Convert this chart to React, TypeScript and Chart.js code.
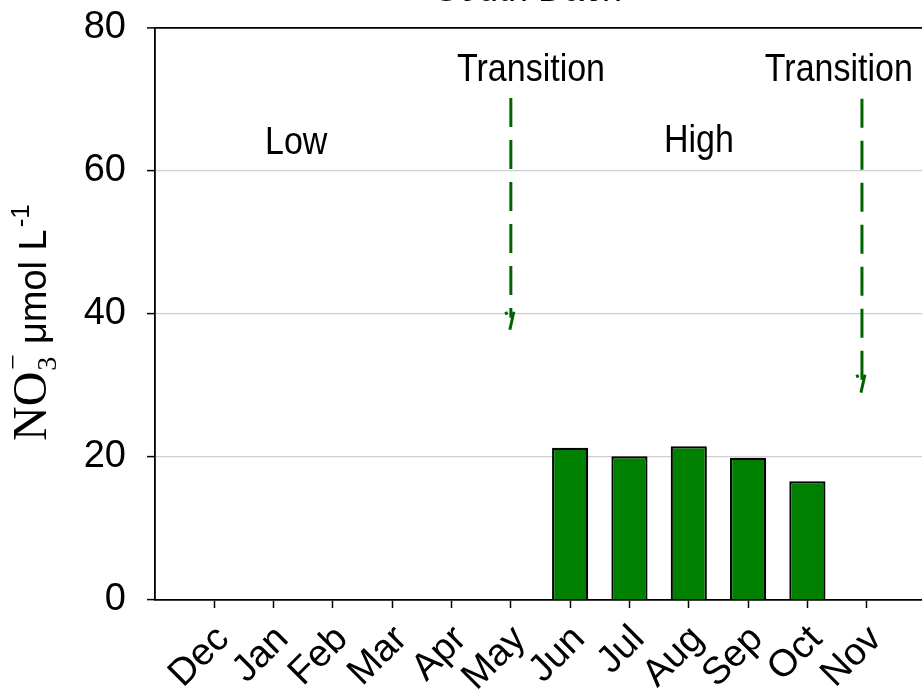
import React, { useEffect, useRef } from "react";
import { Chart, registerables } from "chart.js";

Chart.register(...registerables);

// Sampling months (Dec .. Nov) and monthly NO3- concentrations (µmol L-1)
const MONTHS = ["Dec", "Jan", "Feb", "Mar", "Apr", "May", "Jun", "Jul", "Aug", "Sep", "Oct", "Nov"];
const NO3 = [null, null, null, null, null, null, 21.3, 20.1, 21.5, 19.9, 16.6, null];
const Y_TICKS = [0, 20, 40, 60, 80];

// Flow-phase labels (x in month positions, y in µmol L-1)
const PHASE_TEXT = ["Low", "Transition", "High", "Transition"];
const PHASE_X = [2.38, 6.34, 9.17, 11.53];
const PHASE_Y = [63.8, 74.1, 64.1, 74.1];

// Transition arrows
const ARROW_X = [6.0, 11.92];
const ARROW_FROM = [70.2, 70.1];
const ARROW_TO = [37.8, 29.0];

const TITLE = "South Dach";

// canvas sits 40px above the page top so the title is clipped
const SHIFT = 40;
const CANVAS_W = 940;
const CANVAS_H = 733;

const SANS = "'Liberation Sans', Arial, sans-serif";
const SERIF = "'Liberation Serif', 'Times New Roman', serif";

// text drawn slightly taller than wide
const STRETCH = 1.12;

function tallText(ctx: any, text: string, x: number, y: number) {
  ctx.save();
  ctx.translate(x, y);
  ctx.scale(1, STRETCH);
  ctx.fillText(text, 0, 0);
  ctx.restore();
}

const decorations = {
  id: "decorations",
  afterDatasetsDraw(chart: any) {
    const { ctx, scales } = chart;
    const xs = scales.x;
    const ys = scales.y;
    ctx.save();
    // dashed transition arrows
    ctx.strokeStyle = "#006400";
    ctx.lineWidth = 3;
    for (let i = 0; i < ARROW_X.length; i++) {
      const x = xs.getPixelForValue(ARROW_X[i]);
      const y0 = ys.getPixelForValue(ARROW_FROM[i]);
      const y1 = ys.getPixelForValue(ARROW_TO[i]);
      ctx.setLineDash([29, 13]);
      ctx.beginPath();
      ctx.moveTo(x, y0);
      ctx.lineTo(x, y1 - 12);
      ctx.stroke();
      ctx.setLineDash([]);
      ctx.beginPath();
      ctx.moveTo(x - 5, y1 - 18);
      ctx.lineTo(x - 4, y1 - 15);
      ctx.moveTo(x + 3, y1 - 18);
      ctx.lineTo(x - 1, y1);
      ctx.stroke();
    }
    // phase labels
    ctx.fillStyle = "#000";
    ctx.font = `34px ${SANS}`;
    ctx.textAlign = "center";
    ctx.textBaseline = "middle";
    for (let i = 0; i < PHASE_TEXT.length; i++) {
      tallText(ctx, PHASE_TEXT[i], xs.getPixelForValue(PHASE_X[i]), ys.getPixelForValue(PHASE_Y[i]));
    }
    ctx.restore();
  },
  afterDraw(chart: any) {
    const { ctx } = chart;
    ctx.save();
    ctx.fillStyle = "#000";
    // title
    ctx.font = `36px ${SANS}`;
    ctx.textAlign = "center";
    ctx.textBaseline = "alphabetic";
    tallText(ctx, TITLE, 528, SHIFT + 1);

    // rotated y-axis title: NO3- µmol L-1
    ctx.translate(46, SHIFT + 441);
    ctx.rotate(-Math.PI / 2);
    ctx.textAlign = "left";
    let pos = 0;
    ctx.font = `48px ${SERIF}`;
    ctx.fillText("NO", pos, 0);
    pos += ctx.measureText("NO").width + 1;
    ctx.font = `28px ${SERIF}`;
    ctx.fillText("3", pos, 10);
    ctx.fillText("\u2212", pos + 1, -24);
    pos += ctx.measureText("3").width + 2;
    ctx.font = `38px ${SANS}`;
    const main = " \u03bcmol L";
    ctx.fillText(main, pos, 0);
    pos += ctx.measureText(main).width + 2;
    ctx.font = `26px ${SANS}`;
    ctx.fillText("-1", pos, -17);
    ctx.restore();
  },
};

export default function App() {
  const ref = useRef<HTMLCanvasElement | null>(null);

  useEffect(() => {
    if (!ref.current) return;
    const points = MONTHS.map((_, i) => ({ x: i + 1, y: NO3[i] }));
    const chart = new Chart(ref.current, {
      type: "bar",
      data: {
        datasets: [
          {
            data: points as any,
            backgroundColor: "#008000",
            borderColor: "#000",
            borderWidth: 2.2,
            barPercentage: 0.61,
            categoryPercentage: 1,
          },
        ],
      },
      options: {
        animation: false,
        responsive: false,
        devicePixelRatio: 1,
        layout: { padding: { left: 0, right: 14, top: 68, bottom: 0 } },
        plugins: { legend: { display: false }, tooltip: { enabled: false }, title: { display: false } },
        scales: {
          x: {
            type: "linear",
            min: 0,
            max: 13,
            offset: false,
            afterBuildTicks: (scale: any) => {
              scale.ticks = MONTHS.map((_, i) => ({ value: i + 1 }));
            },
            afterFit: (scale: any) => {
              scale.height = 93;
            },
            ticks: {
              autoSkip: false,
              minRotation: 45,
              maxRotation: 45,
              padding: 9,
              labelOffset: 9,
              color: "#000",
              font: { family: SANS, size: 38 },
              callback: (v: any) => MONTHS[Math.round(Number(v)) - 1] ?? "",
            },
            grid: {
              offset: false,
              drawOnChartArea: false,
              drawTicks: true,
              tickLength: 8,
              tickColor: "#000",
              tickWidth: 1.5,
            },
            border: { display: true, color: "#000", width: 1.8 },
          },
          y: {
            min: 0,
            max: 80,
            afterBuildTicks: (scale: any) => {
              scale.ticks = Y_TICKS.map((v) => ({ value: v }));
            },
            afterFit: (scale: any) => {
              scale.width = 155;
            },
            ticks: {
              padding: 21,
              color: "#000",
              font: { family: SANS, size: 38 },
            },
            grid: {
              drawTicks: true,
              tickLength: 8,
              tickColor: "#000",
              tickWidth: 1.5,
              color: (c: any) => {
                const v = c.tick?.value;
                if (v === 80) return "#000";
                if (v === 0) return "rgba(0,0,0,0)";
                return "#cfcfcf";
              },
              lineWidth: (c: any) => (c.tick?.value === 80 ? 1.8 : 1.2),
            },
            border: { display: true, color: "#000", width: 1.8 },
          },
        },
      },
      plugins: [decorations],
    });
    return () => chart.destroy();
  }, []);

  return (
    <div
      style={{
        position: "fixed",
        left: 0,
        top: -SHIFT,
        width: CANVAS_W,
        height: CANVAS_H,
        background: "#fff",
      }}
    >
      <canvas ref={ref} width={CANVAS_W} height={CANVAS_H} style={{ display: "block" }} />
    </div>
  );
}
